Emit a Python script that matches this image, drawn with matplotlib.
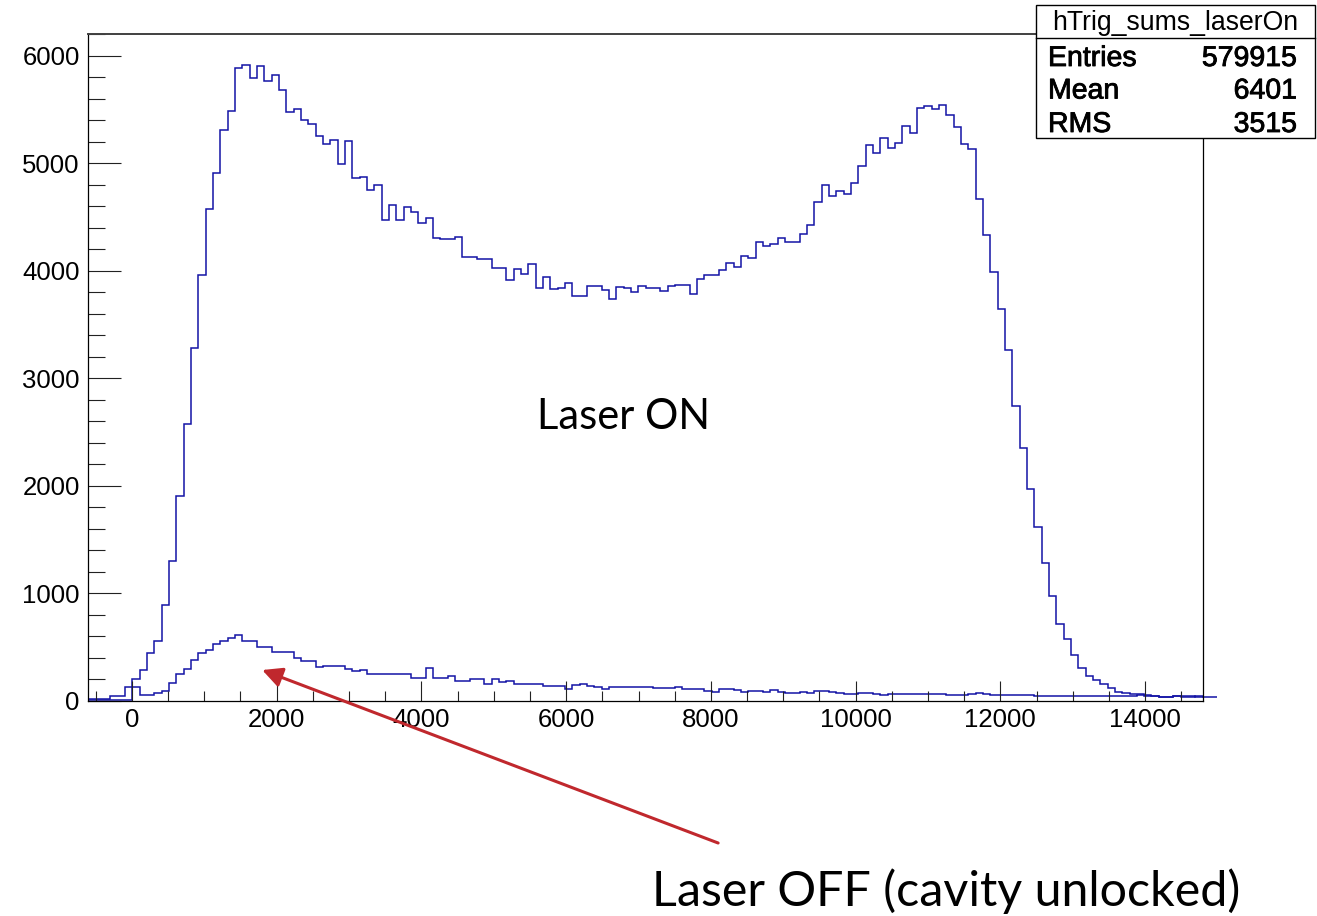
import matplotlib
matplotlib.use("Agg")
import matplotlib.pyplot as plt
import matplotlib.patheffects as pe
import numpy as np
from matplotlib.patches import Rectangle
from matplotlib.lines import Line2D
from matplotlib.ticker import MultipleLocator

plt.rcParams['font.family'] = ['Liberation Sans', 'DejaVu Sans']

# histogram binning: 154 bins between -600 and 15000
x_lo, x_hi, n_bins = -600, 15000, 154

# trigger sums with the laser on (counts per bin)
laser_on = [
    5, 5, 5, 5, 8, 10, 200, 286, 443, 561,
    894, 1302, 1902, 2576, 3282, 3957, 4569, 4910, 5306, 5486,
    5882, 5910, 5792, 5902, 5761, 5820, 5682, 5471, 5502, 5404,
    5361, 5255, 5176, 5216, 4988, 5208, 4863, 4875, 4753, 4796,
    4475, 4612, 4475, 4588, 4549, 4447, 4487, 4305, 4299, 4299,
    4314, 4126, 4126, 4104, 4104, 4025, 4025, 3915, 4016, 3969,
    4063, 3836, 3937, 3827, 3843, 3884, 3764, 3764, 3862, 3862,
    3821, 3733, 3852, 3836, 3802, 3862, 3843, 3843, 3811, 3855,
    3865, 3865, 3780, 3921, 3962, 3962, 4006, 4069, 4038, 4135,
    4120, 4271, 4234, 4245, 4308, 4271, 4271, 4337, 4422, 4638,
    4796, 4693, 4741, 4715, 4815, 4973, 5164, 5090, 5237, 5138,
    5189, 5347, 5281, 5513, 5531, 5505, 5542, 5450, 5336, 5182,
    5127, 4668, 4330, 3988, 3646, 3264, 2739, 2353, 1975, 1618,
    1280, 975, 718, 579, 432, 307, 233, 197, 160, 124,
    87, 70, 68, 62, 45, 42, 40, 40, 45, 45,
    45, 40, 40, 35,
]

# trigger sums with the laser off, cavity unlocked
laser_off = [
    20, 20, 20, 47, 47, 129, 129, 59, 59, 71,
    94, 169, 247, 294, 380, 443, 470, 529, 557, 588,
    612, 557, 561, 498, 498, 451, 451, 451, 404, 373,
    373, 314, 322, 322, 322, 302, 282, 286, 247, 247,
    247, 247, 247, 247, 215, 215, 311, 217, 217, 233,
    185, 185, 201, 201, 157, 204, 179, 189, 154, 154,
    154, 154, 141, 141, 141, 116, 151, 157, 141, 132,
    116, 126, 126, 126, 126, 126, 132, 123, 123, 123,
    132, 116, 116, 107, 91, 85, 107, 107, 101, 86,
    93, 93, 86, 101, 82, 75, 75, 86, 75, 93,
    93, 86, 75, 68, 68, 75, 75, 68, 57, 64,
    64, 64, 64, 64, 68, 68, 68, 57, 57, 57,
    64, 75, 68, 58, 58, 58, 58, 58, 58, 50,
    50, 50, 50, 50, 50, 50, 50, 50, 50, 50,
    50, 50, 50, 60, 60, 42, 38, 40, 44, 38,
    40, 42, 38, 40,
]

stats_title = "hTrig_sums_laserOn"
stats_rows = [("Entries", "579915"), ("Mean", "6401"), ("RMS", "3515")]

edges = np.linspace(x_lo, x_hi, n_bins + 1)

W, H = 1317, 916
fig = plt.figure(figsize=(W / 100, H / 100), dpi=100)
ax = fig.add_axes([88 / W, 1 - 701 / H, (1203 - 88) / W, (701 - 34) / H])

line_col = '#1414a6'
ax.stairs(laser_on, edges, baseline=None, color=line_col, lw=1.1)
ax.stairs(laser_off, edges, baseline=None, color=line_col, lw=1.1,
          clip_on=False)

ax.set_xlim(-607, 14800)
ax.set_ylim(0, 6200)

ax.xaxis.set_major_locator(MultipleLocator(2000))
ax.xaxis.set_minor_locator(MultipleLocator(500))
ax.yaxis.set_major_locator(MultipleLocator(1000))
ax.yaxis.set_minor_locator(MultipleLocator(200))

ax.tick_params(axis='both', which='both', direction='in', color='#222222',
               width=0.8, labelsize=18.5, top=False, right=False)
ax.tick_params(axis='y', which='major', length=24, pad=6)
ax.tick_params(axis='y', which='minor', length=12)
ax.tick_params(axis='x', which='major', length=14.5, pad=5)
ax.tick_params(axis='x', which='minor', length=7.5)

for side in ('left', 'bottom', 'right'):
    ax.spines[side].set_color('black')
    ax.spines[side].set_linewidth(0.9)
ax.spines['top'].set_color('#404040')
ax.spines['top'].set_linewidth(1.4)

# annotations
ax.text(5600, 2528, "Laser ON", family='Lato', fontsize=30, va='baseline',
        ha='left')
ax.text(7188, -1905, "Laser OFF (cavity unlocked)", family='Lato',
        fontsize=34.8, va='baseline', ha='left', clip_on=False)
ax.annotate('', xy=(1800, 288), xytext=(8100, -1320),
            arrowprops=dict(arrowstyle='-|>', color='#c0282d', lw=2.2,
                            mutation_scale=30, shrinkA=0, shrinkB=0),
            annotation_clip=False)

# stats box
bx0, bx1, by0, by1, bsep = 1036, 1315, 5, 138, 37.5
fig.add_artist(Rectangle((bx0 / W, 1 - by1 / H), (bx1 - bx0) / W,
                         (by1 - by0) / H, transform=fig.transFigure,
                         facecolor='white', edgecolor='black', lw=1.0,
                         zorder=5))
fig.add_artist(Line2D([bx0 / W, bx1 / W], [1 - bsep / H, 1 - bsep / H],
                      transform=fig.transFigure, color='black', lw=1.0,
                      zorder=6))
fig.text((bx0 + bx1) / 2 / W, 1 - 29.5 / H, stats_title, fontsize=19.2,
         ha='center', va='baseline', zorder=7)
heavy = [pe.withStroke(linewidth=0.6, foreground='black')]
for (lab, val), base in zip(stats_rows, [66, 98.5, 132]):
    fig.text(1048 / W, 1 - base / H, lab, fontsize=20.5, ha='left',
             va='baseline', zorder=7, path_effects=heavy)
    fig.text(1297 / W, 1 - base / H, val, fontsize=20.5, ha='right',
             va='baseline', zorder=7, path_effects=heavy)

fig.savefig('out.png', dpi=100)
